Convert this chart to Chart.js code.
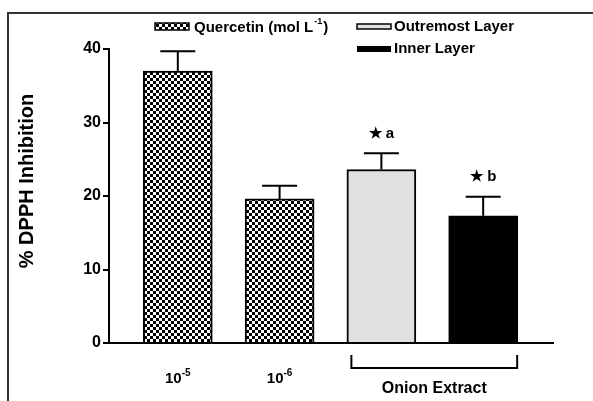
<!DOCTYPE html>
<html>
<head>
<meta charset="utf-8">
<script src="https://cdn.jsdelivr.net/npm/chart.js@4/dist/chart.umd.min.js"></script>
<style>
  html, body { margin: 0; padding: 0; background: #fff; }
  #wrap { width: 593px; height: 401px; }
</style>
</head>
<body>
<div id="wrap"><canvas id="chart" width="593" height="401"></canvas></div>
<script>
// values
const groups = ["10-5", "10-6", "outer", "inner"];
const tickBase = ["10", "10", "", ""];
const tickExp = ["-5", "-6", "", ""];
const inhibition = [37.0, 19.6, 23.6, 17.3];
const sem = [2.7, 1.8, 2.2, 2.6];
const marks = ["", "", "\u2605 a", "\u2605 b"];
const yTicks = [0, 10, 20, 30, 40];

const FONT = "'Liberation Sans', Arial, sans-serif";

// checker pattern for the quercetin bars
function checker() {
  const c = document.createElement("canvas");
  c.width = 6; c.height = 6;
  const g = c.getContext("2d");
  g.fillStyle = "#fff";
  g.fillRect(0, 0, 6, 6);
  g.fillStyle = "#000";
  g.fillRect(0, 0, 3, 3);
  g.fillRect(3, 3, 3, 3);
  return g.createPattern(c, "repeat");
}
const chk = checker();
const fills = [chk, chk, "#e0e0e0", "#000"];

// frame, error bars, labels, legend
const extras = {
  id: "extras",
  afterDatasetsDraw(chart) {
    const ctx = chart.ctx;
    const xs = chart.scales.x, ys = chart.scales.y;
    ctx.save();
    ctx.strokeStyle = "#000";
    ctx.lineWidth = 2;
    inhibition.forEach((v, i) => {
      const x = xs.getPixelForValue(i + 1);
      const y0 = ys.getPixelForValue(v);
      const y1 = ys.getPixelForValue(v + sem[i]);
      ctx.beginPath();
      ctx.moveTo(x, y0); ctx.lineTo(x, y1);
      ctx.moveTo(x - 17.5, y1); ctx.lineTo(x + 17.5, y1);
      ctx.stroke();
      if (marks[i]) {
        ctx.fillStyle = "#000";
        ctx.font = "bold 15px " + FONT;
        ctx.textAlign = "center";
        ctx.textBaseline = "middle";
        ctx.fillText(marks[i], x, y1 - 20);
      }
    });
    ctx.restore();
  },
  afterDraw(chart) {
    const ctx = chart.ctx;
    const xs = chart.scales.x;
    ctx.save();
    // page frame
    ctx.strokeStyle = "#333";
    ctx.lineWidth = 2;
    ctx.beginPath();
    ctx.moveTo(593, 13); ctx.lineTo(8, 13); ctx.lineTo(8, 401);
    ctx.stroke();

    // x labels with superscripts
    ctx.fillStyle = "#000";
    ctx.textBaseline = "alphabetic";
    tickBase.forEach((b, i) => {
      if (!b) return;
      const x = xs.getPixelForValue(i + 1);
      ctx.font = "bold 15px " + FONT;
      const wb = ctx.measureText(b).width;
      ctx.font = "bold 10px " + FONT;
      const we = ctx.measureText(tickExp[i]).width;
      const left = x - (wb + we) / 2;
      ctx.font = "bold 15px " + FONT;
      ctx.textAlign = "left";
      ctx.fillText(b, left, 383);
      ctx.font = "bold 10px " + FONT;
      ctx.fillText(tickExp[i], left + wb, 376);
    });

    // onion extract bracket
    const bx0 = xs.getPixelForValue(3) - 30, bx1 = xs.getPixelForValue(4) + 34;
    ctx.strokeStyle = "#000";
    ctx.lineWidth = 2;
    ctx.beginPath();
    ctx.moveTo(bx0, 355); ctx.lineTo(bx0, 368); ctx.lineTo(bx1, 368); ctx.lineTo(bx1, 355);
    ctx.stroke();
    ctx.font = "bold 16px " + FONT;
    ctx.textAlign = "center";
    ctx.fillText("Onion Extract", (bx0 + bx1) / 2, 393);

    // y title
    ctx.save();
    ctx.translate(27, 181);
    ctx.rotate(-Math.PI / 2);
    ctx.font = "bold 20px " + FONT;
    ctx.textAlign = "center";
    ctx.textBaseline = "middle";
    ctx.fillText("% DPPH Inhibition", 0, 0);
    ctx.restore();

    // legend
    ctx.fillStyle = chk;
    ctx.fillRect(155, 23, 34, 7);
    ctx.lineWidth = 1.5;
    ctx.strokeRect(155, 23, 34, 7);
    ctx.fillStyle = "#e0e0e0";
    ctx.fillRect(357, 24, 34, 5);
    ctx.strokeRect(357, 24, 34, 5);
    ctx.fillStyle = "#000";
    ctx.fillRect(357, 46, 34, 6);

    ctx.font = "bold 15px " + FONT;
    ctx.textAlign = "left";
    ctx.textBaseline = "middle";
    const q = "Quercetin (mol L";
    ctx.fillText(q, 194, 28);
    const w = ctx.measureText(q).width;
    ctx.font = "bold 9px " + FONT;
    ctx.fillText("-1", 194 + w + 1, 22);
    const we = ctx.measureText("-1").width;
    ctx.font = "bold 15px " + FONT;
    ctx.fillText(")", 194 + w + we + 2, 28);
    ctx.fillText("Outremost Layer", 394, 27);
    ctx.fillText("Inner Layer", 394, 49);
    ctx.restore();
  }
};

new Chart(document.getElementById("chart"), {
  type: "bar",
  data: {
    datasets: [{
      data: inhibition.map((v, i) => ({ x: i + 1, y: v })),
      backgroundColor: fills,
      borderColor: "#000",
      borderWidth: 2,
      barThickness: 69
    }]
  },
  options: {
    responsive: false,
    animation: false,
    events: [],
    layout: { padding: { top: 49, right: 40, left: 0, bottom: 0 } },
    plugins: { legend: { display: false }, tooltip: { enabled: false } },
    scales: {
      x: {
        type: "linear",
        offset: false,
        min: 0.324,
        max: 4.686,
        grid: { display: false },
        border: { display: true, color: "#000", width: 2 },
        ticks: { display: false },
        afterFit(s) { s.height = 58; }
      },
      y: {
        min: 0,
        max: 40,
        afterBuildTicks(s) { s.ticks = yTicks.map(v => ({ value: v })); },
        grid: { drawOnChartArea: false, drawTicks: true, tickLength: 6, color: "#000", lineWidth: 2 },
        border: { display: true, color: "#000", width: 2 },
        ticks: { color: "#000", padding: 2, font: { family: FONT, size: 16, weight: "bold" } },
        afterFit(s) { s.width = 109; }
      }
    }
  },
  plugins: [extras]
});
</script>
</body>
</html>
